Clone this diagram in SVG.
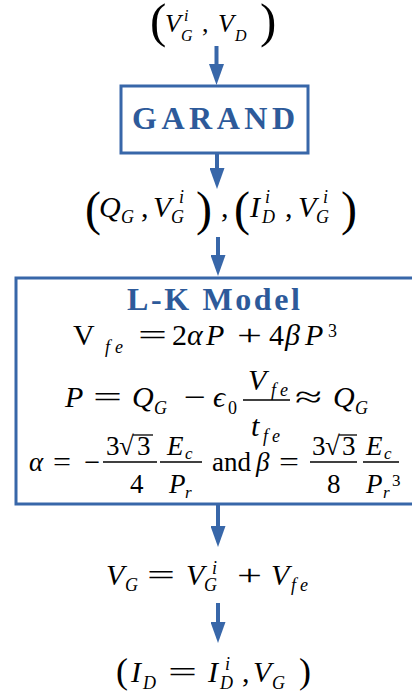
<svg xmlns="http://www.w3.org/2000/svg" width="412" height="691" viewBox="0 0 412 691">
<defs>
<style>
.mi{font-style:italic;font-size:30px}
.rm{font-size:30px}
.s{font-style:italic;font-size:18px}
.sr{font-size:18px}
.t{font-weight:bold;fill:#2d5a9a;font-size:32px}
.box{fill:#fff;stroke:#3867a9;stroke-width:3}
.con{stroke:#3867a9;stroke-width:4;fill:none}
.bar{stroke:#000;stroke-width:1.3}
</style>
<marker id="ah" viewBox="0 0 21 15" refX="1" refY="7.5" markerWidth="21" markerHeight="15" markerUnits="userSpaceOnUse" orient="auto">
<path d="M0,0 L21,7.5 L0,15 Z" fill="#3867a9"/>
</marker>
</defs>
<rect width="412" height="691" fill="#fff"/>

<g id="connectors">
<line class="con" x1="216.5" y1="46" x2="216.5" y2="65" marker-end="url(#ah)"/>
<line class="con" x1="217" y1="154" x2="217" y2="169" marker-end="url(#ah)"/>
<line class="con" x1="218" y1="237" x2="218" y2="256" marker-end="url(#ah)"/>
<line class="con" x1="218" y1="505" x2="218" y2="527" marker-end="url(#ah)"/>
<line class="con" x1="218" y1="603" x2="218" y2="623" marker-end="url(#ah)"/>
</g>

<g id="n-input">
<text font-family="Liberation Serif" class="rm" x="150" y="37" style="font-size:49px">(</text>
<text font-family="Liberation Serif" class="mi" x="165" y="32" style="font-size:26px">V</text>
<text font-family="Liberation Serif" class="s" x="184" y="21" style="font-size:16px">i</text>
<text font-family="Liberation Serif" class="s" x="181" y="41" style="font-size:16px">G</text>
<text font-family="Liberation Serif" class="rm" x="202" y="32" style="font-size:26px">,</text>
<text font-family="Liberation Serif" class="mi" x="218" y="32" style="font-size:26px">V</text>
<text font-family="Liberation Serif" class="s" x="235" y="41" style="font-size:16px">D</text>
<text font-family="Liberation Serif" class="rm" x="260" y="37" style="font-size:49px">)</text>
</g>

<g id="n-garand">
<rect class="box" x="121" y="86" width="187" height="67"/>
<text font-family="Liberation Serif" class="t" x="132" y="129" textLength="163" lengthAdjust="spacing">GARAND</text>
</g>

<g id="n-mid">
<text font-family="Liberation Serif" class="rm" x="85" y="225" style="font-size:48px">(</text>
<text font-family="Liberation Serif" class="mi" x="99" y="217">Q</text>
<text font-family="Liberation Serif" class="s" x="121" y="223">G</text>
<text font-family="Liberation Serif" class="rm" x="141" y="217">,</text>
<text font-family="Liberation Serif" class="mi" x="153" y="217">V</text>
<text font-family="Liberation Serif" class="s" x="179" y="203">i</text>
<text font-family="Liberation Serif" class="s" x="171" y="223">G</text>
<text font-family="Liberation Serif" class="rm" x="196" y="225" style="font-size:48px">)</text>
<text font-family="Liberation Serif" class="rm" x="221" y="217">,</text>
<text font-family="Liberation Serif" class="rm" x="234" y="225" style="font-size:48px">(</text>
<text font-family="Liberation Serif" class="mi" x="250" y="217">I</text>
<text font-family="Liberation Serif" class="s" x="265" y="203">i</text>
<text font-family="Liberation Serif" class="s" x="262" y="223">D</text>
<text font-family="Liberation Serif" class="rm" x="285" y="217">,</text>
<text font-family="Liberation Serif" class="mi" x="298" y="217">V</text>
<text font-family="Liberation Serif" class="s" x="323" y="203">i</text>
<text font-family="Liberation Serif" class="s" x="316" y="223">G</text>
<text font-family="Liberation Serif" class="rm" x="341" y="225" style="font-size:48px">)</text>
</g>

<g id="n-lk">
<rect class="box" x="16" y="278" width="410" height="226"/>
<text font-family="Liberation Serif" class="t" x="127" y="310" textLength="173" lengthAdjust="spacing">L-K Model</text>
<text font-family="Liberation Serif" class="rm" x="73" y="345">V</text>
<text font-family="Liberation Serif" class="s" x="105" y="353">f</text>
<text font-family="Liberation Serif" class="s" x="115" y="353">e</text>
<text font-family="Liberation Serif" class="rm" x="138" y="345" textLength="29" lengthAdjust="spacingAndGlyphs">=</text>
<text font-family="Liberation Serif" class="rm" x="172" y="345">2</text>
<text font-family="Liberation Serif" class="mi" x="187" y="345">α</text>
<text font-family="Liberation Serif" class="mi" x="206" y="345">P</text>
<text font-family="Liberation Serif" class="rm" x="237" y="345" textLength="25" lengthAdjust="spacingAndGlyphs">+</text>
<text font-family="Liberation Serif" class="rm" x="269" y="345">4</text>
<text font-family="Liberation Serif" class="mi" x="285" y="345">β</text>
<text font-family="Liberation Serif" class="mi" x="305" y="345">P</text>
<text font-family="Liberation Serif" class="sr" x="328" y="337">3</text>

<text font-family="Liberation Serif" class="mi" x="65" y="407">P</text>
<text font-family="Liberation Serif" class="rm" x="93" y="407" textLength="29" lengthAdjust="spacingAndGlyphs">=</text>
<text font-family="Liberation Serif" class="mi" x="132" y="407">Q</text>
<text font-family="Liberation Serif" class="s" x="154" y="414">G</text>
<text font-family="Liberation Serif" class="rm" x="184" y="407" textLength="22" lengthAdjust="spacingAndGlyphs">−</text>
<text font-family="Liberation Serif" class="mi" x="213" y="407">ϵ</text>
<text font-family="Liberation Serif" class="sr" x="228" y="414">0</text>
<line class="bar" x1="243" y1="400" x2="290" y2="400"/>
<text font-family="Liberation Serif" class="mi" x="248" y="390">V</text>
<text font-family="Liberation Serif" class="s" x="271" y="396">f</text>
<text font-family="Liberation Serif" class="s" x="280" y="396">e</text>
<text font-family="Liberation Serif" class="mi" x="251" y="436">t</text>
<text font-family="Liberation Serif" class="s" x="263" y="442">f</text>
<text font-family="Liberation Serif" class="s" x="272" y="442">e</text>
<text font-family="Liberation Serif" class="rm" x="295" y="407" textLength="27" lengthAdjust="spacingAndGlyphs">≈</text>
<text font-family="Liberation Serif" class="mi" x="333" y="407">Q</text>
<text font-family="Liberation Serif" class="s" x="355" y="414">G</text>

<text font-family="Liberation Serif" class="mi" x="29" y="471" style="font-size:27px">α</text>
<text font-family="Liberation Serif" class="rm" x="53" y="471" style="font-size:27px" textLength="18" lengthAdjust="spacingAndGlyphs">=</text>
<text font-family="Liberation Serif" class="rm" x="84" y="471" style="font-size:27px" textLength="16" lengthAdjust="spacingAndGlyphs">−</text>
<text font-family="Liberation Serif" class="rm" x="106" y="455" style="font-size:27px">3</text>
<text font-family="Liberation Serif" class="rm" x="119" y="455" style="font-size:27px">√</text>
<line class="bar" x1="133" y1="435" x2="153" y2="435"/>
<text font-family="Liberation Serif" class="rm" x="137" y="455" style="font-size:27px">3</text>
<line class="bar" x1="103" y1="462" x2="157" y2="462"/>
<text font-family="Liberation Serif" class="rm" x="130" y="493" style="font-size:27px">4</text>
<text font-family="Liberation Serif" class="mi" x="167" y="455" style="font-size:27px">E</text>
<text font-family="Liberation Serif" class="s" x="185" y="459" style="font-size:17px">c</text>
<line class="bar" x1="160" y1="462" x2="202" y2="462"/>
<text font-family="Liberation Serif" class="mi" x="169" y="493" style="font-size:27px">P</text>
<text font-family="Liberation Serif" class="s" x="185" y="498" style="font-size:17px">r</text>
<text font-family="Liberation Serif" class="rm" x="212" y="471" style="font-size:27px">and</text>
<text font-family="Liberation Serif" class="mi" x="256" y="471" style="font-size:27px">β</text>
<text font-family="Liberation Serif" class="rm" x="279" y="471" style="font-size:27px" textLength="20" lengthAdjust="spacingAndGlyphs">=</text>
<text font-family="Liberation Serif" class="rm" x="312" y="455" style="font-size:27px">3</text>
<text font-family="Liberation Serif" class="rm" x="325" y="455" style="font-size:27px">√</text>
<line class="bar" x1="339" y1="435" x2="357" y2="435"/>
<text font-family="Liberation Serif" class="rm" x="342" y="455" style="font-size:27px">3</text>
<line class="bar" x1="310" y1="462" x2="357" y2="462"/>
<text font-family="Liberation Serif" class="rm" x="327" y="493" style="font-size:27px">8</text>
<text font-family="Liberation Serif" class="mi" x="366" y="455" style="font-size:27px">E</text>
<text font-family="Liberation Serif" class="s" x="384" y="459" style="font-size:17px">c</text>
<line class="bar" x1="363" y1="462" x2="399" y2="462"/>
<text font-family="Liberation Serif" class="mi" x="366" y="493" style="font-size:27px">P</text>
<text font-family="Liberation Serif" class="s" x="383" y="498" style="font-size:17px">r</text>
<text font-family="Liberation Serif" class="sr" x="392" y="486" style="font-size:17px">3</text>
</g>

<g id="n-vg">
<text font-family="Liberation Serif" class="mi" x="106" y="585">V</text>
<text font-family="Liberation Serif" class="s" x="125" y="591">G</text>
<text font-family="Liberation Serif" class="rm" x="147" y="585" textLength="28" lengthAdjust="spacingAndGlyphs">=</text>
<text font-family="Liberation Serif" class="mi" x="186" y="585">V</text>
<text font-family="Liberation Serif" class="s" x="212" y="574">i</text>
<text font-family="Liberation Serif" class="s" x="204" y="591">G</text>
<text font-family="Liberation Serif" class="rm" x="237" y="585" textLength="25" lengthAdjust="spacingAndGlyphs">+</text>
<text font-family="Liberation Serif" class="mi" x="271" y="585">V</text>
<text font-family="Liberation Serif" class="s" x="291" y="591">f</text>
<text font-family="Liberation Serif" class="s" x="300" y="591">e</text>
</g>

<g id="n-out">
<text font-family="Liberation Serif" class="rm" x="116" y="683" style="font-size:36px">(</text>
<text font-family="Liberation Serif" class="mi" x="131" y="682">I</text>
<text font-family="Liberation Serif" class="s" x="143" y="689">D</text>
<text font-family="Liberation Serif" class="rm" x="168" y="682" textLength="29" lengthAdjust="spacingAndGlyphs">=</text>
<text font-family="Liberation Serif" class="mi" x="208" y="682">I</text>
<text font-family="Liberation Serif" class="s" x="225" y="670">i</text>
<text font-family="Liberation Serif" class="s" x="220" y="689">D</text>
<text font-family="Liberation Serif" class="rm" x="242" y="682">,</text>
<text font-family="Liberation Serif" class="mi" x="253" y="682">V</text>
<text font-family="Liberation Serif" class="s" x="272" y="689">G</text>
<text font-family="Liberation Serif" class="rm" x="299" y="683" style="font-size:36px">)</text>
</g>
</svg>
